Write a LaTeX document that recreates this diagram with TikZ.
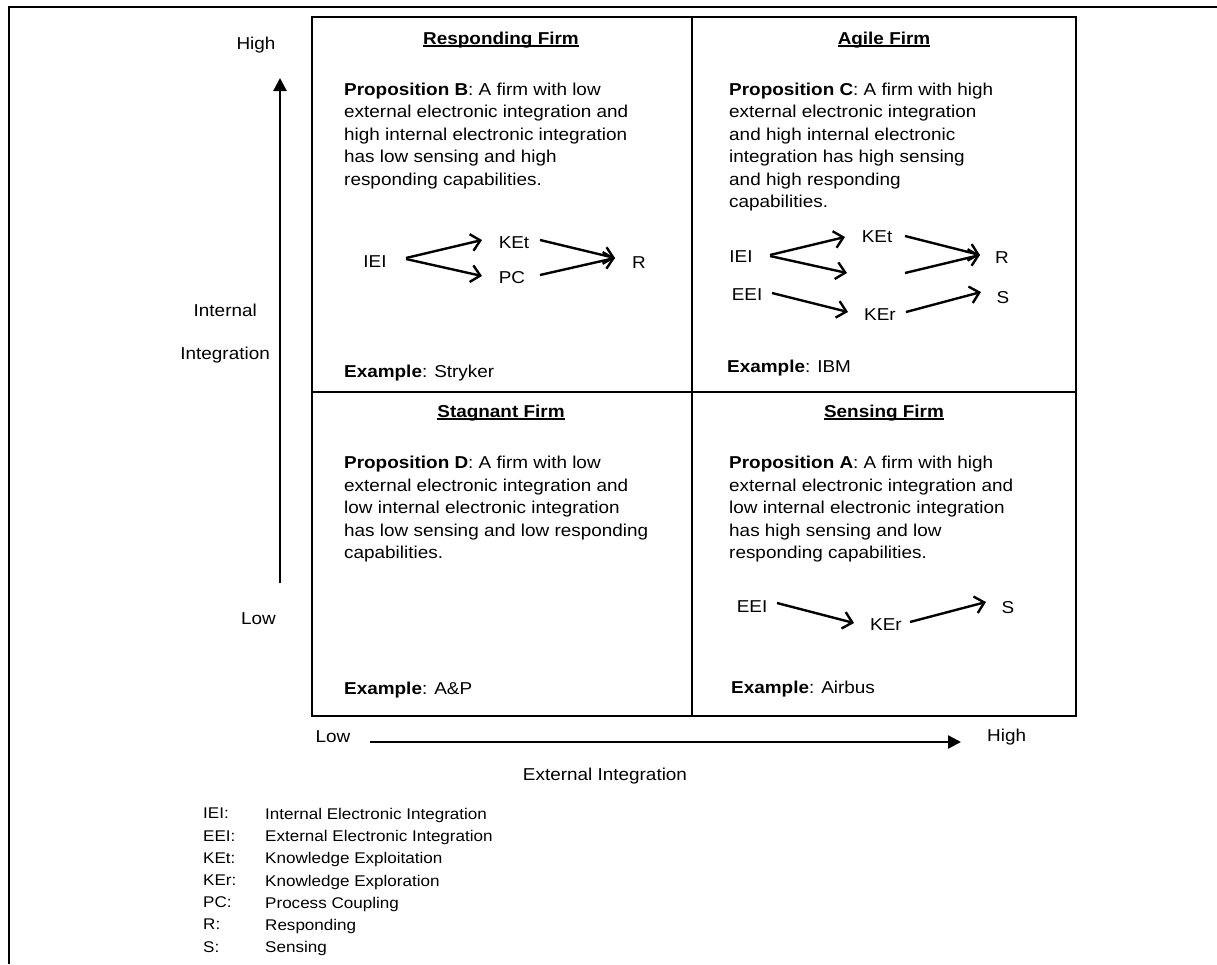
\documentclass[tikz,border=0pt]{standalone}
\usepackage{fontspec}
\setmainfont{Liberation Sans}[FakeStretch=1.1]
\usetikzlibrary{arrows.meta}
\newcommand\myul[1]{\setbox0=\hbox{#1}\rlap{\rule[-2.6pt]{\wd0}{1.3pt}}\box0}
\tikzset{
  frameline/.style={line width=2.3pt},
  gridline/.style={line width=2.6pt},
  axisarrow/.style={line width=2.4pt,-{Triangle[length=13pt,width=13pt]}},
  flow/.style={line width=2.4pt,-{Straight Barb[length=9pt,width=17pt]}},
  body/.style={anchor=north west,inner sep=0pt,align=left,font=\fontsize{17.2}{22.5}\selectfont},
  lbl/.style={inner sep=0pt,font=\fontsize{17.2}{20}\selectfont},
  ttl/.style={anchor=base,inner sep=0pt,font=\fontsize{17.2}{20}\selectfont\bfseries},
  exmp/.style={anchor=base west,inner sep=0pt,font=\fontsize{17.2}{20}\selectfont},
  leg/.style={anchor=north west,inner sep=0pt,align=left,font=\fontsize{15.5}{22.2}\selectfont},
}
\begin{document}
\begin{tikzpicture}[x=1pt,y=-1pt]
\useasboundingbox (0,0) rectangle (1217,964);
% outer frame
\coordinate (fTR) at (1217,7);
\coordinate (fTL) at (9,7);
\coordinate (fBL) at (9,964);
\draw[frameline] (fTR) -- (fTL) -- (fBL);
% quadrant grid
\draw[gridline] (312,17) rectangle (1076,716);
\draw[gridline] (692,17) -- (692,716);
\draw[gridline] (312,392) -- (1076,392);
% axes
\coordinate (vlow) at (280,583);
\coordinate (vhigh) at (280,78);
\draw[axisarrow] (vlow) -- (vhigh);
\coordinate (hlow) at (370,742);
\coordinate (hhigh) at (961,742);
\draw[axisarrow] (hlow) -- (hhigh);
\node[lbl] (yhigh) at (256,45) {High};
\node[lbl,anchor=east] (yint1) at (257,310) {Internal};
\node[lbl,anchor=east] (yint2) at (270,355) {Integration};
\node[lbl,anchor=east] (ylow) at (276,619) {Low};
\node[lbl] (xlow) at (333,737) {Low};
\node[lbl,anchor=west] (xhigh) at (987,737) {High};
\node[lbl] (xlab) at (605,776) {External Integration};
% titles
\node[ttl] (tB) at (501,44) {\myul{Responding Firm}};
\node[ttl] (tC) at (884,44) {\myul{Agile Firm}};
\node[ttl] (tD) at (501,417) {\myul{Stagnant Firm}};
\node[ttl] (tA) at (884,417) {\myul{Sensing Firm}};
% propositions
\node[body] (pB) at (344,82.5) {\textbf{Proposition B}: A firm with low\\external electronic integration and\\high internal electronic integration\\has low sensing and high\\responding capabilities.};
\node[body] (pC) at (729,82.5) {\textbf{Proposition C}: A firm with high\\external electronic integration\\and high internal electronic\\integration has high sensing\\and high responding\\capabilities.};
\node[body] (pD) at (344,456) {\textbf{Proposition D}: A firm with low\\external electronic integration and\\low internal electronic integration\\has low sensing and low responding\\capabilities.};
\node[body] (pA) at (729,456) {\textbf{Proposition A}: A firm with high\\external electronic integration and\\low internal electronic integration\\has high sensing and low\\responding capabilities.};
% examples
\node[exmp] (eB) at (344,377) {\textbf{Example}: Stryker};
\node[exmp] (eC) at (727,372) {\textbf{Example}: IBM};
\node[exmp] (eD) at (344,694) {\textbf{Example}: A\&P};
\node[exmp] (eA) at (731,693) {\textbf{Example}: Airbus};
% Responding firm diagram
\node[lbl] (b-iei) at (375,262) {IEI};
\node[lbl] (b-ket) at (514,243) {KEt};
\node[lbl] (b-pc) at (512,278) {PC};
\node[lbl] (b-r) at (639,263) {R};
\draw[flow] ([shift={(31,-4)}]b-iei.center) -- ([shift={(-32,-3)}]b-ket.center);
\draw[flow] ([shift={(31,-3)}]b-iei.center) -- ([shift={(-30,-2)}]b-pc.center);
\draw[flow] ([shift={(26,-3)}]b-ket.center) -- ([shift={(-24,-5)}]b-r.center);
\draw[flow] ([shift={(28,-3)}]b-pc.center) -- ([shift={(-24,-5)}]b-r.center);
% Agile firm diagram
\node[lbl] (c-iei) at (741,257) {IEI};
\node[lbl] (c-ket) at (877,237) {KEt};
\node[lbl] (c-r) at (1002,258) {R};
\node[lbl] (c-eei) at (747,295) {EEI};
\node[lbl] (c-ker) at (880,315) {KEr};
\node[lbl] (c-s) at (1003,298) {S};
\coordinate (c-gapL) at (847,273);
\coordinate (c-gapR) at (905,273);
\draw[flow] ([shift={(29,-2)}]c-iei.center) -- ([shift={(-32,0)}]c-ket.center);
\draw[flow] ([shift={(29,-1)}]c-iei.center) -- (c-gapL);
\draw[flow] ([shift={(28,-1)}]c-ket.center) -- ([shift={(-22,-3)}]c-r.center);
\draw[flow] (c-gapR) -- ([shift={(-22,-3)}]c-r.center);
\draw[flow] ([shift={(25,-2)}]c-eei.center) -- ([shift={(-32,-3)}]c-ker.center);
\draw[flow] ([shift={(26,-3)}]c-ker.center) -- ([shift={(-22,-6)}]c-s.center);
% Sensing firm diagram
\node[lbl] (a-eei) at (752,607) {EEI};
\node[lbl] (a-ker) at (886,625) {KEr};
\node[lbl] (a-s) at (1008,608) {S};
\draw[flow] ([shift={(25,-4)}]a-eei.center) -- ([shift={(-32,-2)}]a-ker.center);
\draw[flow] ([shift={(24,-3)}]a-ker.center) -- ([shift={(-22,-6)}]a-s.center);
% legend
\node[leg] (legA) at (203,808) {IEI:\\EEI:\\KEt:\\KEr:\\PC:\\R:\\S:};
\node[leg] (legB) at (265,808) {Internal Electronic Integration\\External Electronic Integration\\Knowledge Exploitation\\Knowledge Exploration\\Process Coupling\\Responding\\Sensing};
\end{tikzpicture}
\end{document}
